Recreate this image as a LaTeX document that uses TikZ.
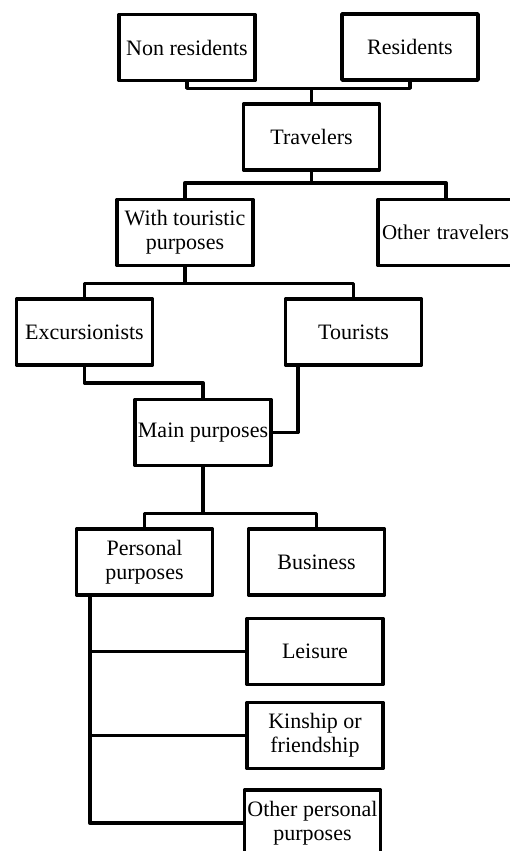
\documentclass[tikz,border=0pt]{standalone}
\usepackage{fontspec}
\setmainfont{Liberation Serif}
\usepackage{tikz}
\usetikzlibrary{positioning,calc}

\tikzset{
  box/.style={draw, line width=3.5pt, line join=round, align=center,
              minimum width=136pt, minimum height=66pt, inner sep=1pt,
              font=\fontsize{22}{24}\selectfont},
  link/.style={line width=3.5pt, line join=round}
}

\begin{document}
\begin{tikzpicture}[x=1pt,y=-1pt]
\useasboundingbox (0,0) rectangle (509,851);

\node[box] (nonres)    at (187,47.5)  {Non residents};
\node[box] (res)       at (410,47)    {Residents};
\node[box] (trav)      at (311.5,137) {Travelers};
\node[box] (withtour)  at (185,232.5) {With touristic\\purposes};
\node[box, font=\fontsize{21}{24}\selectfont, text width=128pt, align=left]
           (othertrav) at (446,232.5) {Other travelers};
\node[box] (excur)     at (84.5,332)  {Excursionists};
\node[box] (tour)      at (353.5,332) {Tourists};
\node[box] (mainp)     at (203,432.5) {Main purposes};
\node[box] (perso)     at (144.5,562) {Personal\\purposes};
\node[box] (busi)      at (316.5,562) {Business};
\node[box] (leis)      at (315,651.5) {Leisure};
\node[box] (kin)       at (315,735.5) {Kinship or\\friendship};
\node[box] (othper)    at (312.5,823) {Other personal\\purposes};

% residents -> travelers
\draw[link] (trav.north) -- ++(0,-14) coordinate (j1);
\draw[link] (nonres.south) |- (j1) -| (res.south);

% travelers -> two kinds
\draw[link] (trav.south) -- ++(0,11) coordinate (j2);
\draw[link] (withtour.north) |- (j2) -| (othertrav.north);

% touristic purposes
\draw[link] (withtour.south) -- ++(0,16) coordinate (j3);
\draw[link] (excur.north) |- (j3) -| (tour.north);

% visitors -> main purposes
\draw[link] (excur.south) -- ++(0,16) -| (mainp.north);
\draw[link] ([xshift=14pt]tour.south west) |- (mainp.east);

% main purposes
\draw[link] (mainp.south) -- ++(0,46) coordinate (j4);
\draw[link] (perso.north) |- (j4) -| (busi.north);

% personal purposes
\draw[link] ([xshift=15pt]perso.south west) coordinate (p0) |- (othper.west);
\draw[link] (leis.west) -- (leis.west -| p0);
\draw[link] (kin.west) -- (kin.west -| p0);
\end{tikzpicture}
\end{document}
